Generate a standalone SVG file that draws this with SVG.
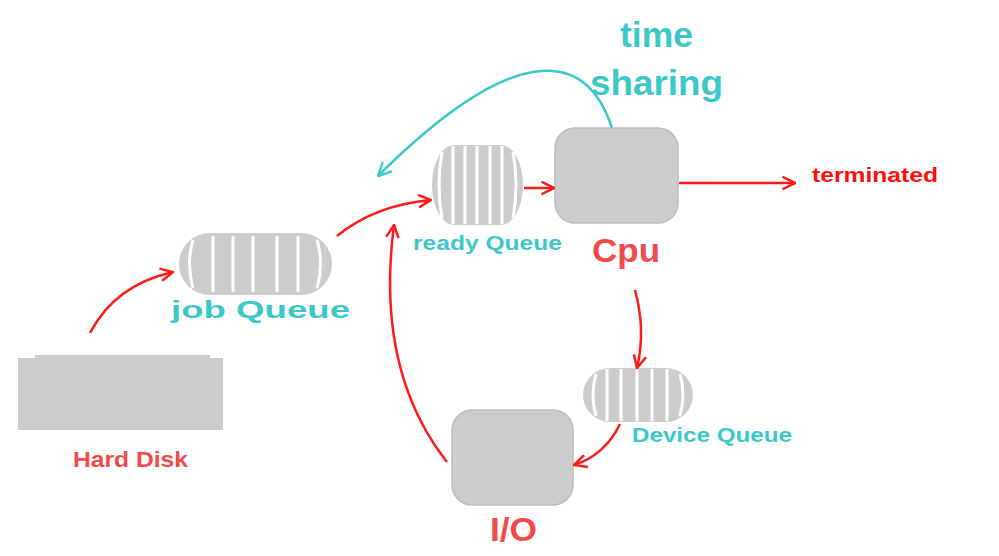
<svg xmlns="http://www.w3.org/2000/svg" width="999" height="556" viewBox="0 0 999 556">
<style>
.box{fill:#cccccc;stroke:#bdbdbd;stroke-width:1.5}
.q{fill:#cccccc}
.st{stroke:#ffffff;stroke-width:3;fill:none}
.red{stroke:#ff1a1a;stroke-width:2.5;fill:none}
.cy{stroke:#3cc8c8;stroke-width:2.5;fill:none}
.lt{font-family:"Liberation Sans",Arial,sans-serif;font-weight:bold;fill:#3cc8c8}
.lr{font-family:"Liberation Sans",Arial,sans-serif;font-weight:bold;fill:#f24a4a}
</style>
<defs>
<marker id="ar" viewBox="0 0 12 12" refX="11" refY="6" markerWidth="15" markerHeight="15" markerUnits="userSpaceOnUse" orient="auto">
<path d="M1,1 L11,6 L1,11" fill="none" stroke="#ff1a1a" stroke-width="2"/>
</marker>
<marker id="ac" viewBox="0 0 12 12" refX="11" refY="6" markerWidth="16" markerHeight="16" markerUnits="userSpaceOnUse" orient="auto">
<path d="M1,1 L11,6 L1,11" fill="none" stroke="#3cc8c8" stroke-width="1.8"/>
</marker>
</defs>
<rect width="999" height="556" fill="#ffffff"/>
<g id="hard-disk">
<path class="q" d="M35,355 H210 V358 H223 V430 H18 V358 H35 Z"/>
<text class="lr" x="73" y="467" font-size="22" textLength="115" lengthAdjust="spacingAndGlyphs">Hard Disk</text>
</g>
<g id="job-queue">
<rect class="q" x="179" y="233" width="153" height="62" rx="31"/>
<path class="st" d="M193,240 Q186,264 193,288 M213,236 V292 M233,236 V292 M253,236 V292 M277,236 V292 M298,236 V292 M317,240 Q324,264 317,288"/>
<text class="lt" x="171" y="318" font-size="23" textLength="179" lengthAdjust="spacingAndGlyphs">job Queue</text>
</g>
<g id="ready-queue">
<rect class="q" x="432" y="145" width="91" height="80" rx="22" ry="40"/>
<path class="st" d="M442,152 Q436,185 442,218 M453,146 V224 M465,146 V224 M477,146 V224 M490,146 V224 M502,146 V224 M513,152 Q519,185 513,218"/>
<text class="lt" x="413" y="250" font-size="21" textLength="149" lengthAdjust="spacingAndGlyphs">ready Queue</text>
</g>
<g id="cpu">
<rect class="box" x="555" y="128" width="123" height="95" rx="20"/>
<text class="lr" x="592" y="262" font-size="34" textLength="68" lengthAdjust="spacingAndGlyphs">Cpu</text>
</g>
<g id="time-sharing">
<text class="lt" x="620" y="47" font-size="35" textLength="73" lengthAdjust="spacingAndGlyphs">time</text>
<text class="lt" x="590" y="95" font-size="35" textLength="133" lengthAdjust="spacingAndGlyphs">sharing</text>
</g>
<g id="terminated">
<text x="812" y="182" font-family="'Liberation Sans',Arial,sans-serif" font-weight="bold" font-size="21" fill="#ff0d0d" textLength="126" lengthAdjust="spacingAndGlyphs">terminated</text>
</g>
<g id="device-queue">
<rect class="q" x="583" y="368" width="110" height="54" rx="27"/>
<path class="st" d="M596,374 Q590,395 596,416 M607,369 V421 M621,369 V421 M637,369 V421 M652,369 V421 M667,369 V421 M680,374 Q686,395 680,416"/>
<text class="lt" x="632" y="442" font-size="21" textLength="160" lengthAdjust="spacingAndGlyphs">Device Queue</text>
</g>
<g id="io">
<rect class="box" x="452" y="410" width="121" height="95" rx="20"/>
<text class="lr" x="490" y="541" font-size="34" textLength="47" lengthAdjust="spacingAndGlyphs">I/O</text>
</g>
<g id="connectors">
<path class="red" marker-end="url(#ar)" d="M90,333 Q115,285 173,272"/>
<path class="red" marker-end="url(#ar)" d="M337,236 Q375,205 431,200"/>
<path class="red" marker-end="url(#ar)" d="M524,188 H554"/>
<path class="red" marker-end="url(#ar)" d="M679,183 H795"/>
<path class="red" marker-end="url(#ar)" d="M635,290 Q646,330 637,368"/>
<path class="red" marker-end="url(#ar)" d="M620,424 Q605,455 574,465"/>
<path class="red" marker-end="url(#ar)" d="M447,462 Q375,370 394,225"/>
<path class="cy" marker-end="url(#ac)" d="M612,128 C585,45 510,45 378,176"/>
</g>
</svg>
